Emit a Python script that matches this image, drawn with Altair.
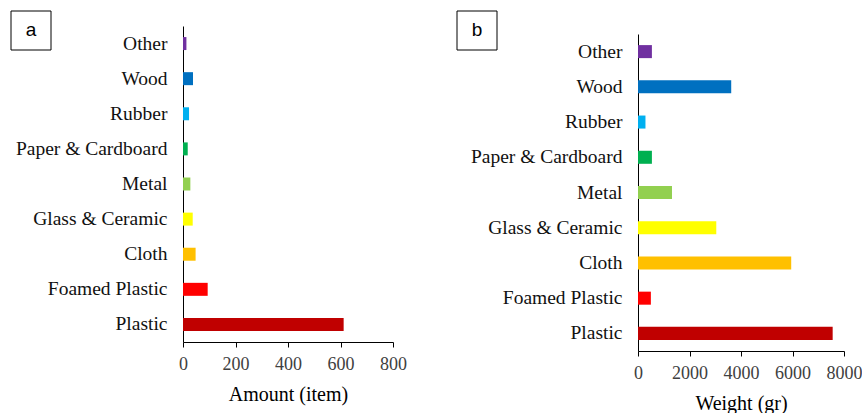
import altair as alt
import pandas as pd

# ---- data ----
categories = ["Plastic", "Foamed Plastic", "Cloth", "Glass & Ceramic\u00a0", "Metal",
              "Paper & Cardboard", "Rubber", "Wood", "Other"]
amount_items = [612, 94, 48, 37, 28, 18, 23, 38, 13]
weight_gr = [7560, 500, 5950, 3040, 1320, 540, 290, 3620, 540]
bar_colors = ["#C00000", "#FF0000", "#FFC000", "#FFFF00", "#92D050",
              "#00B050", "#00B0F0", "#0070C0", "#7030A0"]
amount_ticks = [0, 200, 400, 600, 800]
weight_ticks = [0, 2000, 4000, 6000, 8000]
panel_letters = ["a", "b"]

order_top_to_bottom = list(reversed(categories))
SERIF = "Liberation Serif"


def panel(values, xtitle, xmax, ticks, width, height, yrange, letter, box_left):
    df = pd.DataFrame({"category": categories, "value": values, "color": bar_colors})
    if yrange is not None:
        yscale = alt.Scale(paddingInner=0.63, paddingOuter=0.315, range=yrange)
    else:
        yscale = alt.Scale(paddingInner=0.63, paddingOuter=0.315)
    bars = alt.Chart(df).mark_bar().encode(
        x=alt.X("value:Q",
                scale=alt.Scale(domain=[0, xmax], nice=False, zero=True),
                axis=alt.Axis(values=ticks, title=xtitle, grid=False, format="d",
                              domainColor="#000000", tickColor="#000000",
                              tickSize=5, ticks=True,
                              labelFont=SERIF, labelFontSize=18, labelColor="#404040",
                              labelPadding=8, labelFlush=False,
                              titleFont=SERIF, titleFontSize=20, titleFontWeight="normal",
                              titleColor="#000000", titlePadding=11)),
        y=alt.Y("category:N", sort=order_top_to_bottom, scale=yscale,
                axis=alt.Axis(title=None, ticks=False, domainColor="#000000",
                              labelFont=SERIF, labelFontSize=19.5, labelColor="#111111",
                              labelPadding=16, labelLimit=300)),
        color=alt.Color("color:N", scale=None, legend=None),
    )
    lab = pd.DataFrame({"label": [letter]})
    box = alt.Chart(lab).mark_rect(fill="white", stroke="#000000", strokeWidth=1).encode(
        x=alt.value(box_left), x2=alt.value(box_left + 40),
        y=alt.value(-15), y2=alt.value(24),
    )
    txt = alt.Chart(lab).mark_text(font="Liberation Sans", fontSize=19, color="#000000",
                                   align="center", baseline="middle").encode(
        x=alt.value(box_left + 20), y=alt.value(4), text="label:N",
    )
    return alt.layer(bars, box, txt).properties(width=width, height=height)


left = panel(amount_items, "Amount (item)", 800, amount_ticks, 210, 316, None,
             panel_letters[0], -172)
right = panel(weight_gr, "Weight (gr)", 8000, weight_ticks, 206, 325, [8, 325],
              panel_letters[1], -181)

chart = alt.hconcat(left, right, spacing=49).properties(
    padding={"left": 10, "top": 10, "right": 0, "bottom": 0},
    background="white",
).configure_view(strokeWidth=0)

chart.save("out.html", embed_options={"renderer": "svg", "actions": False})
